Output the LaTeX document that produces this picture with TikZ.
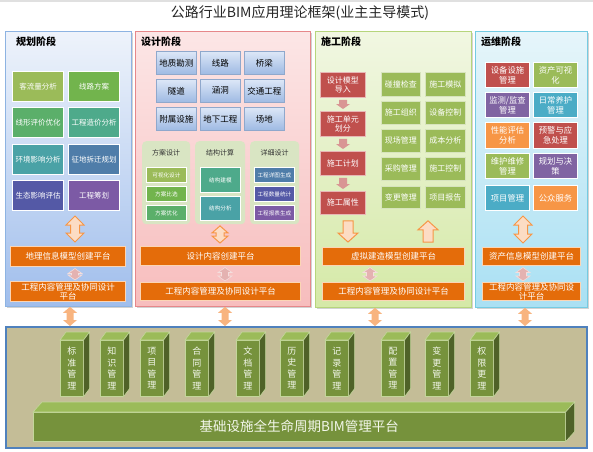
\documentclass[tikz,border=0pt]{standalone}
\usepackage{fontspec}
\setmainfont{Noto Sans CJK SC}
\usetikzlibrary{calc,shadows}

\definecolor{p1d}{HTML}{8DB3E2}\definecolor{p1t}{HTML}{EEF3FB}\definecolor{p1b}{HTML}{A0BEEC}
\definecolor{p2d}{HTML}{E6878A}\definecolor{p2t}{HTML}{FCE6E6}\definecolor{p2b}{HTML}{F7BDBD}
\definecolor{p3d}{HTML}{B6D57C}\definecolor{p3t}{HTML}{F1F7E2}\definecolor{p3b}{HTML}{D5E9A7}
\definecolor{p4d}{HTML}{74CBE2}\definecolor{p4t}{HTML}{E6F5FA}\definecolor{p4b}{HTML}{A9E0F3}
\definecolor{c1}{HTML}{9BBB59}\definecolor{c2}{HTML}{72B44D}\definecolor{c3}{HTML}{5BAF6A}
\definecolor{c4}{HTML}{4EAA8B}\definecolor{c5}{HTML}{4AA2A6}\definecolor{c6}{HTML}{4F7DA9}
\definecolor{c7}{HTML}{5459A6}\definecolor{c8}{HTML}{7C5AA5}
\definecolor{mred}{HTML}{C0504D}\definecolor{mgrn}{HTML}{9BBB59}\definecolor{mpur}{HTML}{8064A2}
\definecolor{mcyn}{HTML}{4BACC6}\definecolor{morg}{HTML}{F79646}
\definecolor{orng}{HTML}{E46C0A}\definecolor{orngl}{HTML}{FBD5B5}
\definecolor{gbt}{HTML}{DDE7F7}\definecolor{gbb}{HTML}{9EBAE3}\definecolor{gbd}{HTML}{8FA8CC}
\definecolor{spf}{HTML}{D9E5C3}
\definecolor{redl}{HTML}{E8B7B6}\definecolor{grnl}{HTML}{D7E4BD}
\definecolor{peach}{HTML}{FCDCC4}\definecolor{orng2}{HTML}{F79646}
\definecolor{pinka}{HTML}{E4B2B1}\definecolor{pinkal}{HTML}{F4DEDD}
\definecolor{dnpink}{HTML}{D99694}
\definecolor{basearr}{HTML}{F8B47F}
\definecolor{basef}{HTML}{C4BD97}\definecolor{based}{HTML}{4F81BD}
\definecolor{colf}{HTML}{76923C}\definecolor{colt}{HTML}{9BBB59}\definecolor{cols}{HTML}{4F6228}
\definecolor{coll}{HTML}{C3D69B}

\newcommand\bx[7]{\node[#6, anchor=north west, minimum width={#4-#2}, minimum height={#5-#3}] (#1) at (#2,#3) {#7};}

% vertical double block arrow: style, top, bottom, gtop, gbot, shaft half, head half, head length
\newcommand\vdarrow[8]{\path[#1] let \p1=(#2), \p2=(#3) in
 (\x1,{\y1-#4pt}) -- ({\x1+#7pt},{\y1-#4pt-#8pt}) -- ({\x1+#6pt},{\y1-#4pt-#8pt})
 -- ({\x1+#6pt},{\y2+#5pt+#8pt}) -- ({\x1+#7pt},{\y2+#5pt+#8pt}) -- (\x1,{\y2+#5pt})
 -- ({\x1-#7pt},{\y2+#5pt+#8pt}) -- ({\x1-#6pt},{\y2+#5pt+#8pt})
 -- ({\x1-#6pt},{\y1-#4pt-#8pt}) -- ({\x1-#7pt},{\y1-#4pt-#8pt}) -- cycle;}
% down block arrow (head at bottom)
\newcommand\dnarrow[8]{\path[#1] let \p1=(#2), \p2=(#3) in
 ({\x1-#6pt},{\y1-#4pt}) -- ({\x1+#6pt},{\y1-#4pt}) -- ({\x1+#6pt},{\y2+#5pt+#8pt})
 -- ({\x1+#7pt},{\y2+#5pt+#8pt}) -- (\x1,{\y2+#5pt}) -- ({\x1-#7pt},{\y2+#5pt+#8pt})
 -- ({\x1-#6pt},{\y2+#5pt+#8pt}) -- cycle;}
% up block arrow (head at top)
\newcommand\uparr[8]{\path[#1] let \p1=(#2), \p2=(#3) in
 (\x1,{\y1-#4pt}) -- ({\x1+#7pt},{\y1-#4pt-#8pt}) -- ({\x1+#6pt},{\y1-#4pt-#8pt})
 -- ({\x1+#6pt},{\y2+#5pt}) -- ({\x1-#6pt},{\y2+#5pt}) -- ({\x1-#6pt},{\y1-#4pt-#8pt})
 -- ({\x1-#7pt},{\y1-#4pt-#8pt}) -- cycle;}
% 3D column
\newcommand\pillar[3]{%
 \node[colfront, anchor=north west, minimum width=23, minimum height=56] (#1) at (#2,340) {#3};
 \path[coltop] (#1.north west) -- ++(6,-8) -- ($(#1.north east)+(6,-8)$) -- (#1.north east) -- cycle;
 \path[colside] (#1.north east) -- ++(6,-8) -- ($(#1.south east)+(6,-8)$) -- (#1.south east) -- cycle;}

\tikzset{
 panel/.style={draw=#1, line width=0.8pt, inner sep=0, drop shadow={shadow xshift=1.5pt, shadow yshift=-1.5pt, fill=black!35, opacity=0.5}},
 ttl/.style={font=\fontsize{10}{12}\selectfont\bfseries, anchor=west, inner sep=0, text=black},
 cb/.style={fill=#1, draw=white, line width=1pt, text=white, inner sep=0, align=center, font=\fontsize{7.5}{9}\selectfont},
 mb/.style={fill=#1, draw=white, line width=1pt, text=white, inner sep=0, align=center, font=\fontsize{8.3}{10}\selectfont},
 sb/.style={fill=#1, draw=white, line width=0.8pt, text=white, inner sep=0, align=center, font=\fontsize{5.6}{6.5}\selectfont},
 ob/.style={fill=orng, draw=orngl, line width=1pt, text=white, inner sep=0, align=center, font=\fontsize{8.5}{9.2}\selectfont},
 gb/.style={top color=gbt, bottom color=gbb, draw=gbd, line width=0.6pt, text=black, inner sep=0, font=\fontsize{8.5}{10}\selectfont},
 sp/.style={fill=spf, rounded corners=4pt, inner sep=0},
 sptl/.style={font=\fontsize{7}{8}\selectfont, text=black!80, inner sep=0},
 rb/.style={fill=mred, draw=redl, line width=0.8pt, text=white, inner sep=0, align=center, font=\fontsize{8}{9.5}\selectfont},
 grb/.style={fill=mgrn, draw=grnl, line width=0.8pt, text=white, inner sep=0, align=center, font=\fontsize{8}{9.5}\selectfont},
 bigarr/.style={fill=peach, draw=orng2, line width=1pt},
 smarr/.style={fill=pinka, draw=pinkal, line width=0.6pt},
 dnp/.style={fill=dnpink},
 basea/.style={fill=basearr},
 colfront/.style={fill=colf, draw=coll, line width=0.6pt, text=white!88!colt, inner sep=0, align=center, font=\fontsize{9}{11.5}\selectfont},
 coltop/.style={fill=colt, draw=coll, line width=0.6pt},
 colside/.style={fill=cols, draw=coll, line width=0.6pt},
}

\begin{document}
\begin{tikzpicture}[x=1pt,y=-1pt]
\useasboundingbox (0,0) rectangle (593,451);
\fill[white] (0,0) rectangle (593,451);
\fill[black!12] (0,0) rectangle (593,2);

\node[font=\fontsize{14}{16}\selectfont, text=black!85, inner sep=0] (title) at (300,13) {公路行业BIM应用理论框架(业主主导模式)};

% ---------- panels ----------
\bx{p1}{5}{31}{131}{306}{panel=p1d, top color=p1t, bottom color=p1b}{}
\bx{p2}{135}{31}{310}{306}{panel=p2d, top color=p2t, bottom color=p2b}{}
\bx{p3}{315}{31}{471}{307}{panel=p3d, top color=p3t, bottom color=p3b}{}
\bx{p4}{475}{31}{587}{307}{panel=p4d, top color=p4t, bottom color=p4b}{}

% ---------- panel 1 ----------
\node[ttl] (t1) at (16,42) {规划阶段};
\bx{a11}{12}{71}{63}{101}{cb=c1}{客流量分析}
\bx{a12}{68}{71}{119}{101}{cb=c2}{线路方案}
\bx{a21}{12}{107}{63}{137}{cb=c3}{线形评价优化}
\bx{a22}{68}{107}{119}{137}{cb=c4}{工程造价分析}
\bx{a31}{12}{144}{63}{174}{cb=c5}{环境影响分析}
\bx{a32}{68}{144}{119}{174}{cb=c6}{征地拆迁规划}
\bx{a41}{12}{180}{63}{210}{cb=c7}{生态影响评估}
\bx{a42}{68}{180}{119}{210}{cb=c8}{工程筹划}
\bx{o11}{10}{246}{125}{266}{ob}{地理信息模型创建平台}
\bx{o12}{10}{281}{125}{301}{ob}{工程内容管理及协同设计\\平台}
\coordinate (k1) at (75,0);
\vdarrow{bigarr}{k1 |- a42.south}{k1 |- o11.north}{5}{4}{4.5}{9}{9}
\vdarrow{smarr}{k1 |- o11.south}{k1 |- o12.north}{1.5}{1}{3.5}{7}{5}

% ---------- panel 2 ----------
\node[ttl] (t2) at (141,42) {设计阶段};
\bx{b11}{156}{51}{196}{74}{gb}{地质勘测}
\bx{b12}{200}{51}{240}{74}{gb}{线路}
\bx{b13}{244}{51}{284}{74}{gb}{桥梁}
\bx{b21}{156}{79}{196}{102}{gb}{隧道}
\bx{b22}{200}{79}{240}{102}{gb}{涵洞}
\bx{b23}{244}{79}{284}{102}{gb}{交通工程}
\bx{b31}{156}{107}{196}{130}{gb}{附属设施}
\bx{b32}{200}{107}{240}{130}{gb}{地下工程}
\bx{b33}{244}{107}{284}{130}{gb}{场地}
\bx{s1}{142}{141}{190}{224}{sp}{}
\bx{s2}{195}{141}{245}{224}{sp}{}
\bx{s3}{250}{141}{299}{224}{sp}{}
\node[sptl] (s1t) at (166,153) {方案设计};
\node[sptl] (s2t) at (220,153) {结构计算};
\node[sptl] (s3t) at (274.5,153) {详细设计};
\bx{d11}{146}{167}{186}{182}{sb=c1}{可视化设计}
\bx{d12}{146}{186}{186}{201}{sb=c2}{方案比选}
\bx{d13}{146}{205}{186}{220}{sb=c3}{方案优化}
\bx{d21}{200}{167}{240}{192}{sb=c4}{结构建模}
\bx{d22}{200}{196}{240}{220}{sb=c5}{结构分析}
\bx{d31}{254}{167}{294}{182}{sb=c6}{工程详图生成}
\bx{d32}{254}{186}{294}{201}{sb=c7}{工程数量统计}
\bx{d33}{254}{205}{294}{220}{sb=c8}{工程报表生成}
\bx{o21}{140}{246}{300}{265}{ob}{设计内容创建平台}
\bx{o22}{140}{282}{300}{300}{ob}{工程内容管理及协同设计平台}
\coordinate (k2) at (220,0);
\coordinate (k2b) at (225,0);
\vdarrow{bigarr}{k2 |- s2.south}{k2 |- o21.north}{1.5}{3}{4}{8}{7}
\vdarrow{smarr}{k2b |- o21.south}{k2b |- o22.north}{1.5}{1}{3.5}{7}{5}

% ---------- panel 3 ----------
\node[ttl] (t3) at (321,42) {施工阶段};
\bx{r1}{320}{72}{365}{97}{rb}{设计模型\\导入}
\bx{r2}{320}{111}{365}{136}{rb}{施工单元\\划分}
\bx{r3}{320}{151}{365}{175}{rb}{施工计划}
\bx{r4}{320}{191}{365}{214}{rb}{施工属性}
\bx{e11}{381}{72}{420}{96}{grb}{碰撞检查}
\bx{e12}{425}{72}{465}{96}{grb}{施工模拟}
\bx{e21}{381}{101}{420}{124}{grb}{施工组织}
\bx{e22}{425}{101}{465}{124}{grb}{设备控制}
\bx{e31}{381}{129}{420}{152}{grb}{现场管理}
\bx{e32}{425}{129}{465}{152}{grb}{成本分析}
\bx{e41}{381}{157}{420}{180}{grb}{采购管理}
\bx{e42}{425}{157}{465}{180}{grb}{施工控制}
\bx{e51}{381}{186}{420}{208}{grb}{变更管理}
\bx{e52}{425}{186}{465}{208}{grb}{项目报告}
\bx{o31}{322}{247}{464}{265}{ob}{虚拟建造模型创建平台}
\bx{o32}{322}{282}{464}{300}{ob}{工程内容管理及协同设计平台}
\coordinate (k3) at (343,0);
\coordinate (k3d) at (348,0);
\coordinate (k3u) at (428,0);
\coordinate (k3s) at (370,0);
\dnarrow{dnp}{k3 |- r1.south}{k3 |- r2.north}{2}{2}{4}{7}{5}
\dnarrow{dnp}{k3 |- r2.south}{k3 |- r3.north}{2}{2}{4}{7}{5}
\dnarrow{dnp}{k3 |- r3.south}{k3 |- r4.north}{2}{2}{4}{7}{5}
\dnarrow{bigarr}{k3d |- r4.south}{k3d |- o31.north}{6}{5}{5}{10}{9}
\uparr{bigarr}{k3u |- e51.south}{k3u |- o31.north}{12}{5}{5}{10}{9}
\vdarrow{smarr}{k3s |- o31.south}{k3s |- o32.north}{1.5}{1}{3.5}{7}{5}

% ---------- panel 4 ----------
\node[ttl] (t4) at (481,42) {运维阶段};
\bx{f11}{485}{62}{529}{87}{mb=mred}{设备设施\\管理}
\bx{f12}{533}{62}{577}{87}{mb=mgrn}{资产可视\\化}
\bx{f21}{485}{92}{529}{117}{mb=mpur}{监测/监查\\管理}
\bx{f22}{533}{92}{577}{117}{mb=mcyn}{日常养护\\管理}
\bx{f31}{485}{122}{529}{148}{mb=morg}{性能评估\\分析}
\bx{f32}{533}{122}{577}{148}{mb=mred}{预警与应\\急处理}
\bx{f41}{485}{153}{529}{178}{mb=mgrn}{维护维修\\管理}
\bx{f42}{533}{153}{577}{178}{mb=mpur}{规划与决\\策}
\bx{f51}{485}{185}{529}{210}{mb=mcyn}{项目管理}
\bx{f52}{533}{185}{577}{210}{mb=morg}{公众服务}
\bx{o41}{482}{247}{580}{265}{ob}{资产信息模型创建平台}
\bx{o42}{482}{282}{580}{300}{ob}{工程内容管理及协同设\\计平台}
\coordinate (k4) at (523,0);
\vdarrow{bigarr}{k4 |- f51.south}{k4 |- o41.north}{5}{4}{4.5}{9}{9}
\vdarrow{smarr}{k4 |- o41.south}{k4 |- o42.north}{1.5}{1}{3.5}{7}{5}

% ---------- base platform ----------
\bx{base}{5}{326}{586}{447}{fill=basef, draw=based, line width=1.5pt}{}
\coordinate (q1) at (70,0);
\coordinate (q2) at (225,0);
\coordinate (q3) at (375,0);
\coordinate (q4) at (525,0);
\vdarrow{basea}{q1 |- p1.south}{q1 |- base.north}{0}{0}{3.5}{7}{6}
\vdarrow{basea}{q2 |- p2.south}{q2 |- base.north}{0}{0}{3.5}{7}{6}
\vdarrow{basea}{q3 |- p3.south}{q3 |- base.north}{0}{0}{3.5}{7}{6}
\vdarrow{basea}{q4 |- p4.south}{q4 |- base.north}{0}{0}{3.5}{7}{6}

\pillar{m1}{60}{标\\准\\管\\理}
\pillar{m2}{100}{知\\识\\管\\理}
\pillar{m3}{140}{项\\目\\管\\理}
\pillar{m4}{185}{合\\同\\管\\理}
\pillar{m5}{236}{文\\档\\管\\理}
\pillar{m6}{280}{历\\史\\管\\理}
\pillar{m7}{325}{记\\录\\管\\理}
\pillar{m8}{381}{配\\置\\管\\理}
\pillar{m9}{425}{变\\更\\管\\理}
\pillar{m10}{470}{权\\限\\更\\理}

\node[colfront, anchor=north west, minimum width=532, minimum height=29, font=\fontsize{13.5}{15}\selectfont] (bar) at (33,412) {基础设施全生命周期BIM管理平台};
\path[coltop] (bar.north west) -- ++(9,-10) -- ($(bar.north east)+(9,-10)$) -- (bar.north east) -- cycle;
\path[colside] (bar.north east) -- ++(9,-10) -- ($(bar.south east)+(9,-10)$) -- (bar.south east) -- cycle;
\end{tikzpicture}
\end{document}
